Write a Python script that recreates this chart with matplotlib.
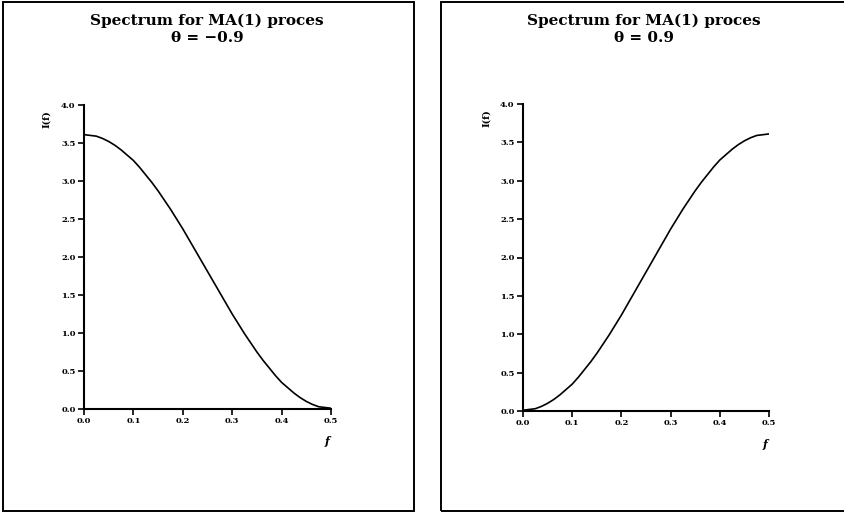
import matplotlib
matplotlib.use("Agg")
import matplotlib.pyplot as plt
from matplotlib.patches import Rectangle

# Frequency grid and spectral density values for the two MA(1) processes
freq = [0.0, 0.0125, 0.025, 0.0375, 0.05, 0.0625, 0.075, 0.0875, 0.1, 0.1125,
        0.125, 0.1375, 0.15, 0.1625, 0.175, 0.1875, 0.2, 0.2125, 0.225, 0.2375,
        0.25, 0.2625, 0.275, 0.2875, 0.3, 0.3125, 0.325, 0.3375, 0.35, 0.3625,
        0.375, 0.3875, 0.4, 0.4125, 0.425, 0.4375, 0.45, 0.4625, 0.475, 0.4875,
        0.5]
spec_neg = [3.61, 3.60, 3.59, 3.56, 3.52, 3.47, 3.41, 3.34, 3.27, 3.18,
            3.08, 2.98, 2.87, 2.75, 2.63, 2.50, 2.37, 2.23, 2.09, 1.95,
            1.81, 1.67, 1.53, 1.39, 1.25, 1.12, 0.99, 0.87, 0.75, 0.64,
            0.54, 0.44, 0.35, 0.28, 0.21, 0.15, 0.10, 0.06, 0.03, 0.02,
            0.01]
spec_pos = [0.01, 0.02, 0.03, 0.06, 0.10, 0.15, 0.21, 0.28, 0.35, 0.44,
            0.54, 0.64, 0.75, 0.87, 0.99, 1.12, 1.25, 1.39, 1.53, 1.67,
            1.81, 1.95, 2.09, 2.23, 2.37, 2.50, 2.63, 2.75, 2.87, 2.98,
            3.08, 3.18, 3.27, 3.34, 3.41, 3.47, 3.52, 3.56, 3.59, 3.60,
            3.61]
thetas = ["\u22120.9", "0.9"]
xticks = [0.0, 0.1, 0.2, 0.3, 0.4, 0.5]
yticks = [0.0, 0.5, 1.0, 1.5, 2.0, 2.5, 3.0, 3.5, 4.0]

W, H = 845, 513
fig = plt.figure(figsize=(W / 100, H / 100), dpi=100)

def px(x0, y0, x1, y1):
    return [x0 / W, 1 - y1 / H, (x1 - x0) / W, (y1 - y0) / H]

# Panel frames
for (x0, x1) in [(3, 414), (441, 860)]:
    fig.patches.append(Rectangle((x0 / W, 1 - 511 / H), (x1 - x0) / W, 509 / H,
                                 transform=fig.transFigure, fill=False,
                                 lw=1.4, ec="black"))

panels = [
    (px(84, 105, 331, 409), spec_neg, thetas[0], 207),
    (px(523, 104, 769, 411), spec_pos, thetas[1], 644),
]

tfont = dict(family="DejaVu Serif", weight="bold")
for rect, vals, th, tx in panels:
    ax = fig.add_axes(rect)
    ax.plot(freq, vals, color="black", lw=1.2)
    ax.set_xlim(0, 0.5)
    ax.set_ylim(0, 4.0)
    ax.set_xticks(xticks)
    ax.set_yticks(yticks)
    ax.set_xticklabels([f"{v:.1f}" for v in xticks])
    ax.set_yticklabels([f"{v:.1f}" for v in yticks])
    for s in ("top", "right"):
        ax.spines[s].set_visible(False)
    for s in ("left", "bottom"):
        ax.spines[s].set_linewidth(1.5)
    ax.tick_params(direction="out", length=4, width=1.2, labelsize=6, pad=2)
    for lab in ax.get_xticklabels() + ax.get_yticklabels():
        lab.set_fontweight("bold")
        lab.set_family("DejaVu Serif")
    ax.text(0.985, -0.108, "f", transform=ax.transAxes, fontsize=8,
            fontstyle="italic", fontweight="bold", family="DejaVu Serif",
            ha="center", va="center")
    ax.text(-0.15, 0.955, "I(f)", transform=ax.transAxes, fontsize=7,
            rotation=90, fontweight="bold", family="DejaVu Serif",
            ha="center", va="center")
    fig.text(tx / W, 1 - 21 / H, "Spectrum for MA(1) proces", ha="center",
             va="center", fontsize=11, **tfont)
    fig.text(tx / W, 1 - 38 / H, "\u03b8 = " + th, ha="center",
             va="center", fontsize=11, **tfont)

fig.savefig("out.png", dpi=100)
